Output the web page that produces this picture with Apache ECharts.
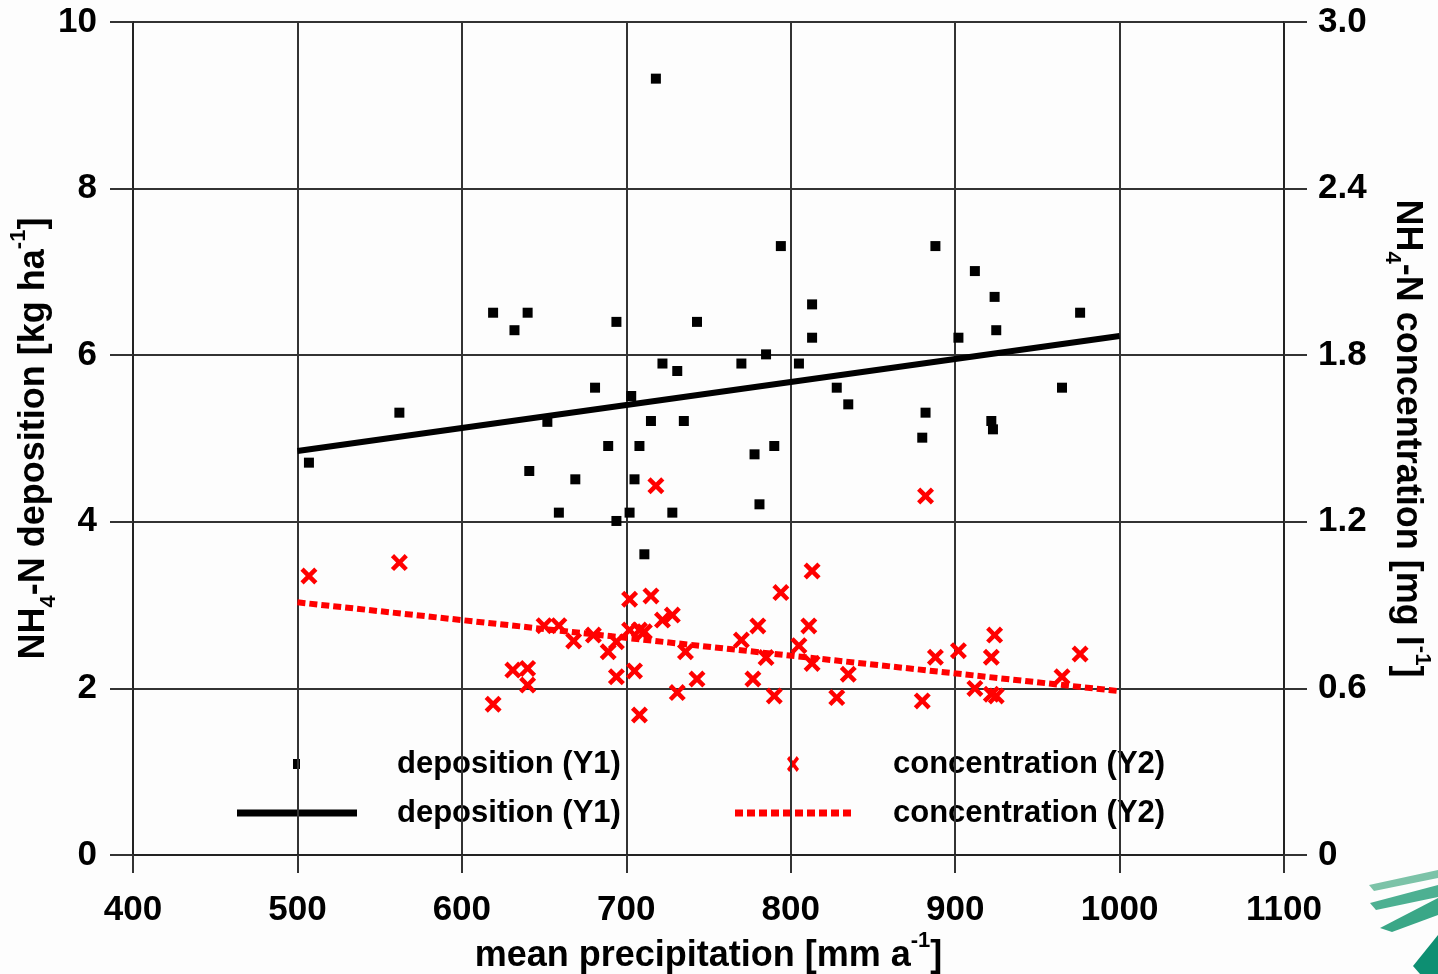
<!DOCTYPE html>
<html>
<head>
<meta charset="utf-8">
<script src="https://cdn.jsdelivr.net/npm/echarts@6/dist/echarts.min.js"></script>
<style>
  html, body { margin: 0; padding: 0; background: #fdfdfd; }
  #chart { width: 1438px; height: 974px; }
</style>
</head>
<body>
<div id="chart"></div>
<script>
// deposition (Y1) - mean precipitation vs NH4-N deposition
const depPrecip = [507, 562, 619, 632, 640, 641, 652, 659, 669, 681, 689, 694, 694, 702, 703, 705, 708, 711, 715, 718, 722, 728, 731, 735, 743, 770, 778, 781, 785, 790, 794, 805, 813, 813, 828, 835, 880, 882, 888, 902, 912, 922, 923, 924, 925, 965, 976];
const depValues = [4.71, 5.31, 6.51, 6.30, 6.51, 4.61, 5.20, 4.11, 4.51, 5.61, 4.91, 6.40, 4.01, 4.11, 5.51, 4.51, 4.91, 3.61, 5.21, 9.32, 5.90, 4.11, 5.81, 5.21, 6.40, 5.90, 4.81, 4.21, 6.01, 4.91, 7.31, 5.90, 6.61, 6.21, 5.61, 5.41, 5.01, 5.31, 7.31, 6.21, 7.01, 5.21, 5.11, 6.70, 6.30, 5.61, 6.51];

// concentration (Y2)
const concPrecip = [507, 562, 619, 631, 640, 640, 650, 659, 668, 680, 689, 694, 694, 702, 702, 705, 708, 708, 711, 715, 718, 722, 728, 731, 736, 743, 770, 777, 780, 785, 790, 794, 805, 811, 813, 813, 828, 835, 880, 882, 888, 902, 912, 922, 922, 924, 925, 965, 976];
const concValues = [1.005, 1.053, 0.543, 0.666, 0.672, 0.612, 0.826, 0.826, 0.771, 0.792, 0.732, 0.768, 0.642, 0.921, 0.81, 0.663, 0.81, 0.504, 0.804, 0.933, 1.33, 0.846, 0.864, 0.585, 0.732, 0.634, 0.774, 0.634, 0.825, 0.711, 0.573, 0.945, 0.754, 0.825, 1.023, 0.690, 0.567, 0.651, 0.555, 1.293, 0.712, 0.736, 0.600, 0.712, 0.579, 0.792, 0.573, 0.642, 0.724];

// linear trends
const trendX = [500, 1000];
const depTrend = [4.85, 6.23];
const concTrend = [0.91, 0.59];

const FONT = '"Liberation Sans", Arial, sans-serif';
// thick "x" marker
const crossPts = [[0, 3], [3, 0], [8, 5], [13, 0], [16, 3], [11, 8], [16, 13], [13, 16], [8, 11], [3, 16], [0, 13], [5, 8]];
const CROSS = 'path://M' + crossPts.map(p => p.join(',')).join(' L') + ' Z';

const titleRich = {
  sub: { fontSize: 22, fontWeight: 'bold', fontFamily: FONT, color: '#000', verticalAlign: 'bottom', lineHeight: 52 },
  sup: { fontSize: 22, fontWeight: 'bold', fontFamily: FONT, color: '#000', verticalAlign: 'top', lineHeight: 52 }
};
const titleStyle = { fontSize: 36, fontWeight: 'bold', fontFamily: FONT, color: '#000', rich: titleRich };
const labelStyle = { fontSize: 35, fontWeight: 'bold', fontFamily: FONT, color: '#000' };

const chart = echarts.init(document.getElementById('chart'));

const zip = (xs, ys) => xs.map((x, i) => [x, ys[i]]);

const option = {
  backgroundColor: '#fdfdfd',
  animation: false,
  grid: { left: 133, right: 154, top: 22, bottom: 119, outerBoundsMode: 'none', containLabel: false },
  xAxis: {
    type: 'value',
    min: 400, max: 1100, interval: 100,
    name: 'mean precipitation [mm a{sup|-1}]',
    nameLocation: 'middle',
    nameGap: 75,
    nameMoveOverlap: false,
    nameTextStyle: titleStyle,
    axisLine: { show: true, lineStyle: { color: '#222', width: 2 } },
    axisTick: { show: true, inside: false, length: 18, lineStyle: { color: '#333', width: 2 } },
    axisLabel: Object.assign({ margin: 38, formatter: v => String(v) }, labelStyle),
    splitLine: { show: true, lineStyle: { color: '#333', width: 2 } }
  },
  yAxis: [{
    type: 'value',
    min: 0, max: 10, interval: 2,
    name: 'NH{sub|4}-N deposition [kg ha{sup|-1}]',
    nameLocation: 'middle',
    nameRotate: 90,
    nameGap: 73,
    nameMoveOverlap: false,
    nameTextStyle: titleStyle,
    axisLine: { show: true, lineStyle: { color: '#222', width: 2 } },
    axisTick: { show: true, inside: false, length: 23, lineStyle: { color: '#333', width: 2 } },
    axisLabel: Object.assign({ margin: 36 }, labelStyle),
    splitLine: { show: true, lineStyle: { color: '#333', width: 2 } }
  }, {
    type: 'value',
    position: 'right',
    min: 0, max: 3, interval: 0.6,
    name: 'NH{sub|4}-N concentration [mg l{sup|-1}]',
    nameLocation: 'middle',
    nameRotate: -90,
    nameGap: 97,
    nameMoveOverlap: false,
    nameTextStyle: titleStyle,
    axisLine: { show: true, lineStyle: { color: '#222', width: 2 } },
    axisTick: { show: true, inside: false, length: 23, lineStyle: { color: '#333', width: 2 } },
    axisLabel: Object.assign({ margin: 34, formatter: v => (v === 0 ? '0' : v.toFixed(1)) }, labelStyle),
    splitLine: { show: false }
  }],
  series: [{
    name: 'deposition (Y1)',
    type: 'scatter',
    yAxisIndex: 0,
    symbol: 'rect',
    symbolSize: 10,
    itemStyle: { color: '#000', opacity: 1 },
    data: zip(depPrecip, depValues),
    z: 3
  }, {
    name: 'concentration (Y2)',
    type: 'scatter',
    yAxisIndex: 1,
    symbol: CROSS,
    symbolSize: 17,
    itemStyle: { color: '#ff0000', opacity: 1 },
    data: zip(concPrecip, concValues),
    z: 4
  }, {
    name: 'deposition trend (Y1)',
    type: 'line',
    yAxisIndex: 0,
    showSymbol: false,
    lineStyle: { color: '#000', width: 6 },
    data: zip(trendX, depTrend),
    z: 5
  }, {
    name: 'concentration trend (Y2)',
    type: 'line',
    yAxisIndex: 1,
    showSymbol: false,
    lineStyle: { color: '#ff0000', width: 6, type: [8, 4] },
    data: zip(trendX, concTrend),
    z: 5
  }],
  graphic: [
    // legend
    { type: 'rect', shape: { x: 293, y: 759, width: 7, height: 10 }, style: { fill: '#000' } },
    { type: 'text', x: 397, y: 764, style: { text: 'deposition (Y1)', font: 'bold 31px ' + FONT, fill: '#000', verticalAlign: 'middle' } },
    { type: 'polygon', x: 787, y: 756, scaleX: 12 / 16, scaleY: 1, shape: { points: crossPts }, style: { fill: '#ff0000' } },
    { type: 'text', x: 893, y: 764, style: { text: 'concentration (Y2)', font: 'bold 31px ' + FONT, fill: '#000', verticalAlign: 'middle' } },
    { type: 'line', shape: { x1: 237, y1: 813, x2: 357, y2: 813 }, style: { stroke: '#000', lineWidth: 7 } },
    { type: 'text', x: 397, y: 813, style: { text: 'deposition (Y1)', font: 'bold 31px ' + FONT, fill: '#000', verticalAlign: 'middle' } },
    { type: 'line', shape: { x1: 735, y1: 813, x2: 855, y2: 813 }, style: { stroke: '#ff0000', lineWidth: 7, lineDash: [8, 4] } },
    { type: 'text', x: 893, y: 813, style: { text: 'concentration (Y2)', font: 'bold 31px ' + FONT, fill: '#000', verticalAlign: 'middle' } },
    // logo fragment bottom right
    { type: 'polygon', shape: { points: [[1369, 885], [1438, 870], [1438, 878], [1374, 891]] }, style: { fill: '#7cc3a8' } },
    { type: 'polygon', shape: { points: [[1370, 903], [1438, 885], [1438, 897], [1376, 910]] }, style: { fill: '#4db092' } },
    { type: 'polygon', shape: { points: [[1380, 928], [1438, 898], [1438, 915], [1392, 932]] }, style: { fill: '#3aa787' } },
    { type: 'polygon', shape: { points: [[1413, 966], [1438, 935], [1438, 974], [1420, 974]] }, style: { fill: '#0d8f72' } }
  ]
};

chart.setOption(option);
</script>
</body>
</html>
